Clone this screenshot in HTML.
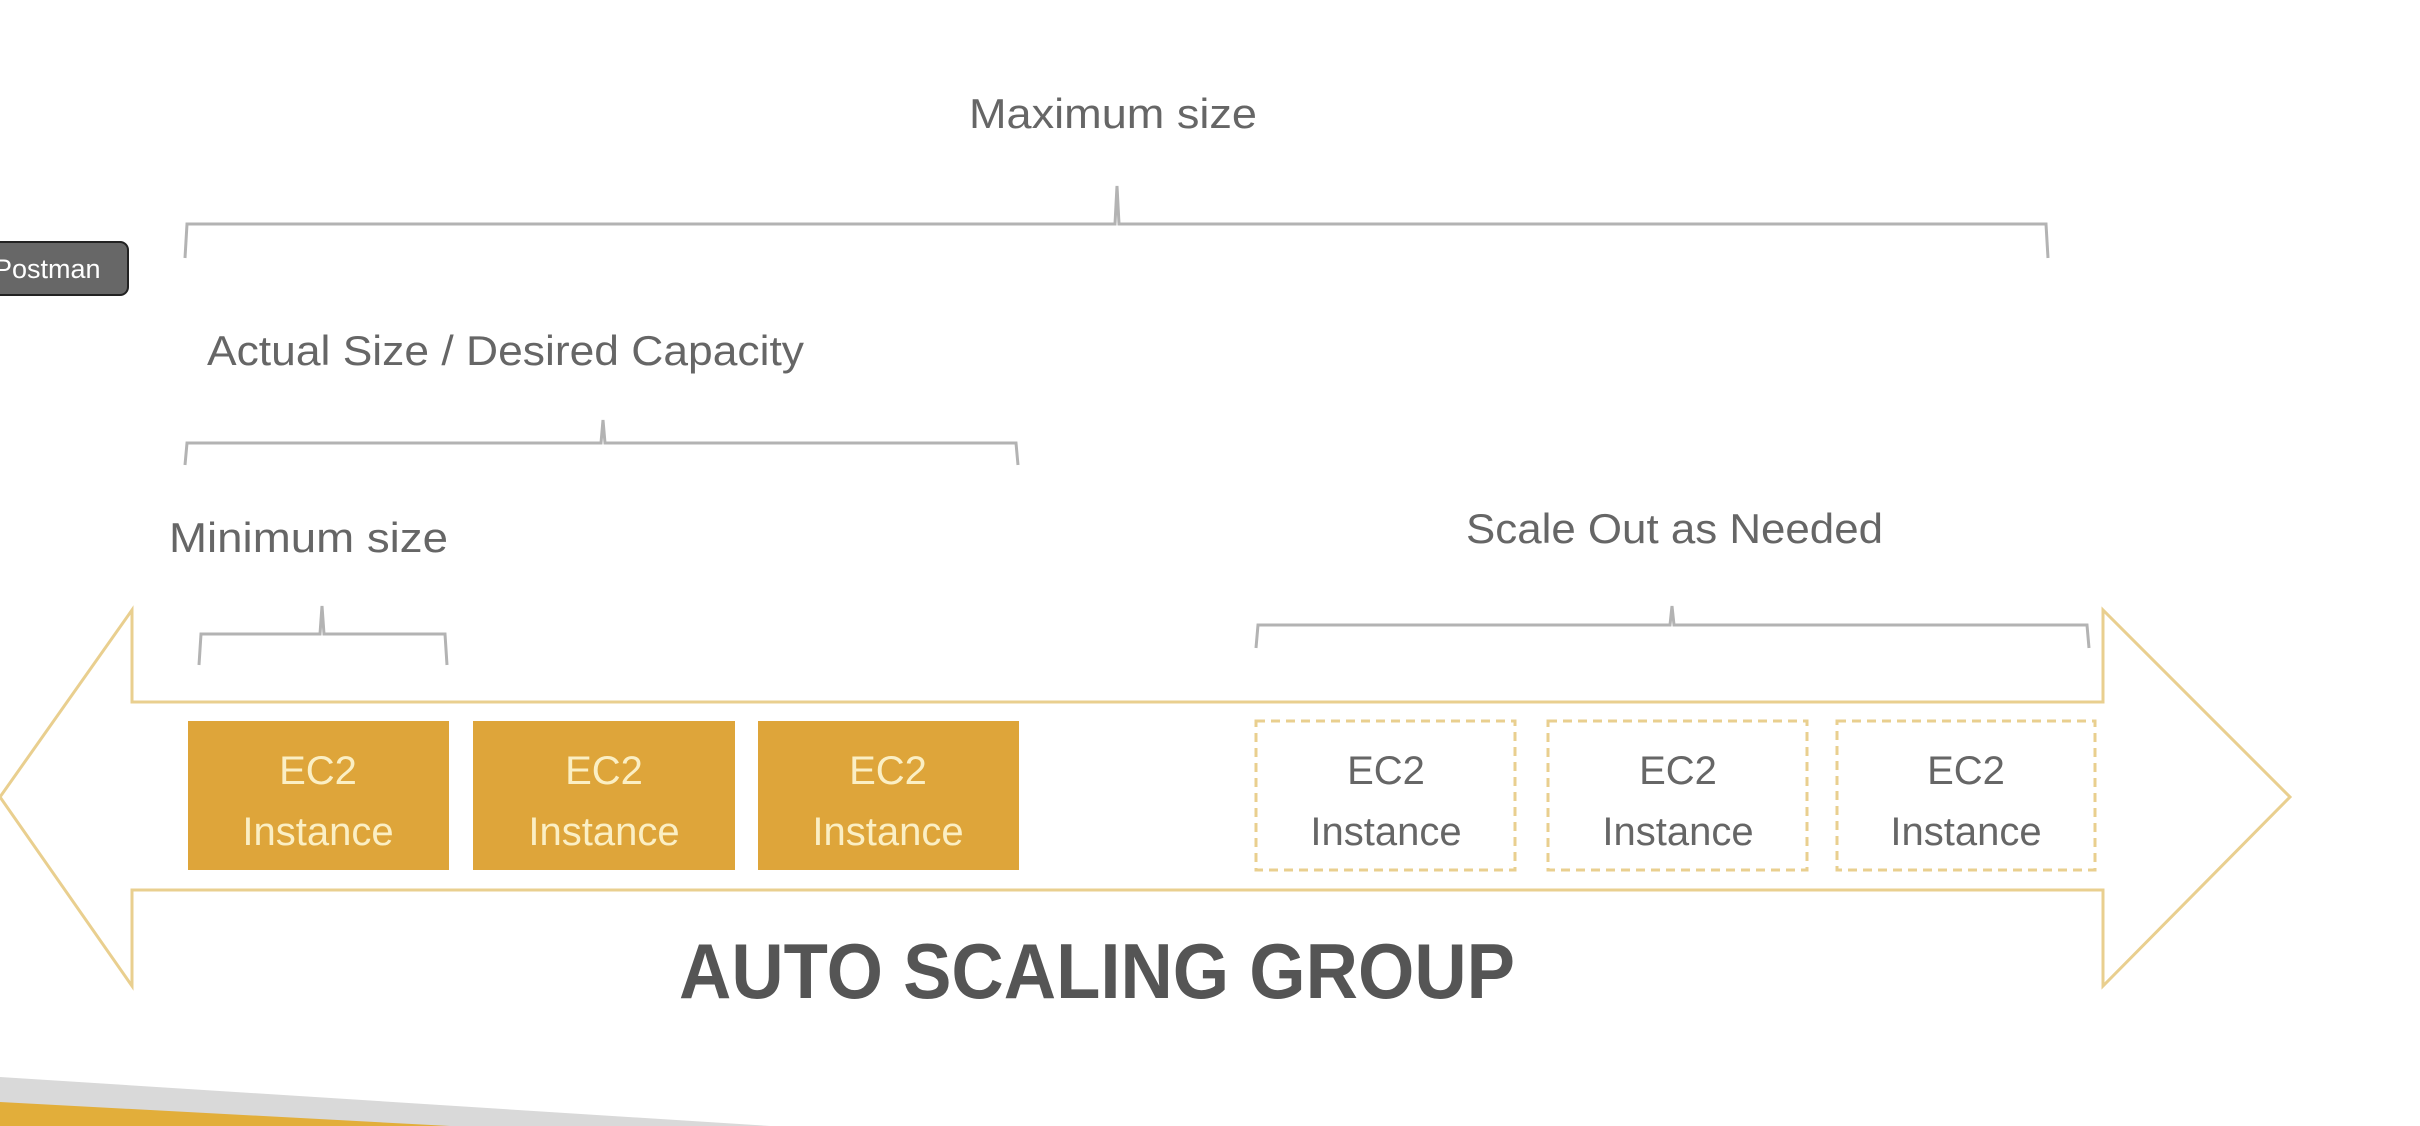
<!DOCTYPE html>
<html><head><meta charset="utf-8"><style>
html,body{margin:0;padding:0;background:#fff;}
svg{display:block;}
</style></head><body>
<svg width="2420" height="1126" viewBox="0 0 2420 1126" xmlns="http://www.w3.org/2000/svg" font-family="Liberation Sans, sans-serif">
<rect width="2420" height="1126" fill="#fff"/>
<polygon points="0,1077 770,1126 0,1126" fill="#d9d9d9"/>
<polygon points="0,1102 450,1126 0,1126" fill="#e2ae3a"/>
<polygon points="0,797 132,610 132,702 2103,702 2103,610 2290,797 2103,986 2103,890 132,890 132,986" fill="none" stroke="#e9cf8f" stroke-width="3"/>
<g fill="none" stroke="#b3b3b3" stroke-width="3">
<path d="M185,258 L187,224 L1115,224 L1117,186 L1119,224 L2046,224 L2048,258"/>
<path d="M185,465 L187,443 L601,443 L603,420 L605,443 L1016,443 L1018,465"/>
<path d="M199,665 L201,634 L320,634 L322,606 L324,634 L445,634 L447,665"/>
<path d="M1256,648 L1258,625 L1670,625 L1672,606 L1674,625 L2087,625 L2089,648"/>
</g>
<g fill="#666" font-size="42">
<text x="969" y="128" textLength="288" lengthAdjust="spacingAndGlyphs">Maximum size</text>
<text x="207" y="365" textLength="597" lengthAdjust="spacingAndGlyphs">Actual Size / Desired Capacity</text>
<text x="169" y="552" textLength="279" lengthAdjust="spacingAndGlyphs">Minimum size</text>
<text x="1466" y="543" textLength="417" lengthAdjust="spacingAndGlyphs">Scale Out as Needed</text>
</g>
<g fill="#dea53a">
<rect x="188" y="721" width="261" height="149"/>
<rect x="473" y="721" width="262" height="149"/>
<rect x="758" y="721" width="261" height="149"/>
</g>
<g fill="#fbefc4" font-size="40" text-anchor="middle">
<text x="318" y="784">EC2</text><text x="318" y="845">Instance</text>
<text x="604" y="784">EC2</text><text x="604" y="845">Instance</text>
<text x="888" y="784">EC2</text><text x="888" y="845">Instance</text>
</g>
<g fill="none" stroke="#e9cf8f" stroke-width="3" stroke-dasharray="9,6">
<rect x="1256" y="721" width="259" height="149"/>
<rect x="1548" y="721" width="259" height="149"/>
<rect x="1837" y="721" width="258" height="149"/>
</g>
<g fill="#666" font-size="40" text-anchor="middle">
<text x="1386" y="784">EC2</text><text x="1386" y="845">Instance</text>
<text x="1678" y="784">EC2</text><text x="1678" y="845">Instance</text>
<text x="1966" y="784">EC2</text><text x="1966" y="845">Instance</text>
</g>
<text x="679" y="998" fill="#555" font-size="78" font-weight="bold" textLength="836" lengthAdjust="spacingAndGlyphs">AUTO SCALING GROUP</text>
<rect x="-10" y="242" width="138" height="53" rx="8" fill="#676767" stroke="#222" stroke-width="2"/>
<text x="-6" y="278" fill="#fff" font-size="27">Postman</text>
</svg>
</body></html>
